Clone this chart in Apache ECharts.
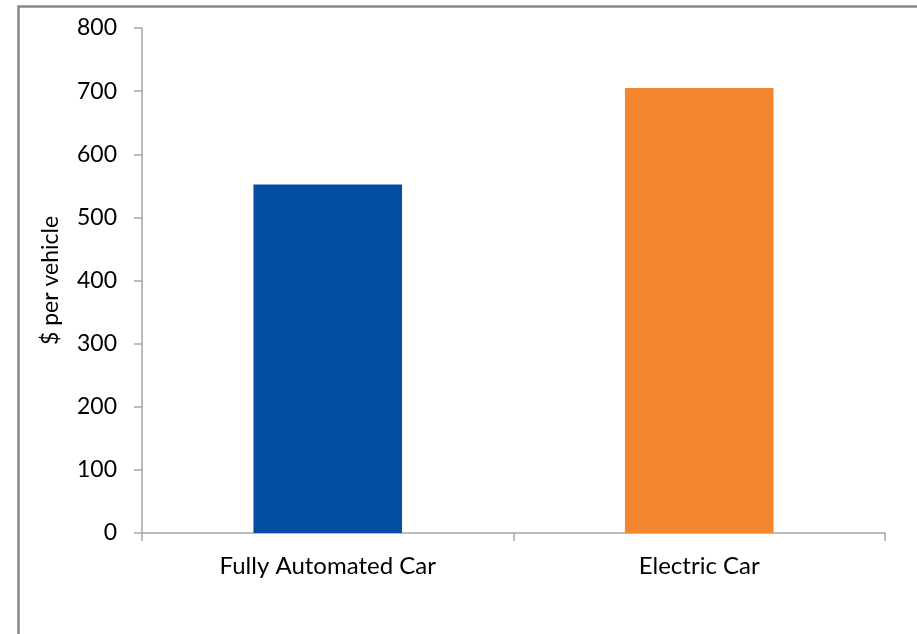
<!DOCTYPE html>
<html>
<head>
<meta charset="utf-8">
<script src="https://cdn.jsdelivr.net/npm/echarts@6/dist/echarts.min.js"></script>
<style>
  html, body { margin: 0; padding: 0; background: #ffffff; }
  #chart { width: 917px; height: 634px; }
</style>
</head>
<body>
<div id="chart"></div>
<script>
// Cost per vehicle by car type
const categories = ['Fully Automated Car', 'Electric Car'];
const costPerVehicle = [552, 705];
const barColors = ['#034EA2', '#F58630'];
const yTicks = { min: 0, max: 800, interval: 100 };
const yAxisTitle = '$ per vehicle';

const FONT = 'Lato';
const chart = echarts.init(document.getElementById('chart'), null, { renderer: 'canvas' });

chart.setOption({
  animation: false,
  backgroundColor: '#ffffff',
  grid: { left: 142, right: 32, top: 28, bottom: 101, containLabel: false },
  xAxis: {
    type: 'category',
    data: categories,
    boundaryGap: true,
    axisLine: { show: true, lineStyle: { color: '#A6A6A6', width: 1.5 } },
    axisTick: { show: true, alignWithLabel: false, length: 8, lineStyle: { color: '#A6A6A6', width: 1.5 } },
    axisLabel: { color: '#000000', fontFamily: FONT, fontSize: 24, margin: 21 }
  },
  yAxis: {
    type: 'value',
    min: yTicks.min,
    max: yTicks.max,
    interval: yTicks.interval,
    name: yAxisTitle,
    nameLocation: 'middle',
    nameGap: 80,
    nameRotate: 90,
    nameTextStyle: { color: '#000000', fontFamily: FONT, fontSize: 23 },
    splitLine: { show: false },
    axisLine: { show: true, lineStyle: { color: '#A6A6A6', width: 1.5 } },
    axisTick: { show: true, length: 8, lineStyle: { color: '#A6A6A6', width: 1.5 } },
    axisLabel: { color: '#000000', fontFamily: FONT, fontSize: 23, margin: 25 }
  },
  series: [{
    type: 'bar',
    data: costPerVehicle.map((v, i) => ({ value: v, itemStyle: { color: barColors[i] } })),
    barWidth: '40%'
  }],
  graphic: [{
    type: 'rect',
    silent: true,
    shape: { x: 18.5, y: 6.5, width: 1200, height: 1200 },
    style: { fill: 'none', stroke: '#878787', lineWidth: 2.5 }
  }]
});
</script>
</body>
</html>
